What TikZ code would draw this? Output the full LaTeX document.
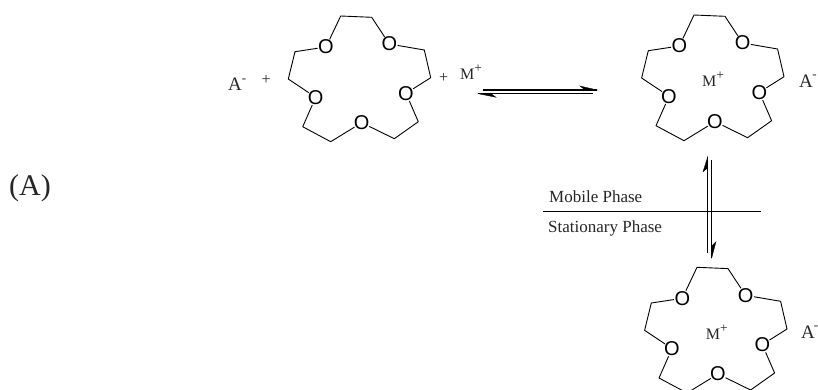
\documentclass[tikz,border=0pt]{standalone}
\usepackage{fontspec}
\setmainfont{Liberation Serif}
\newfontfamily\atomfont{Liberation Sans}
\newcommand{\supplus}{\raisebox{7pt}{\fontsize{13.5}{13.5}\selectfont +}}
\newcommand{\supminus}{\raisebox{8.5pt}{\fontsize{13}{13}\selectfont -}}
\tikzset{
  x=1pt,y=-1pt,
  atom/.style={circle,inner sep=-1.6pt,font=\atomfont\fontsize{20}{20}\selectfont,text=black},
  bond/.style={line width=0.9pt,line join=round},
  txt/.style={anchor=base west,inner sep=0pt,text=black!85},
  lab/.style={txt,font=\fontsize{16}{17}\selectfont},
  phase/.style={txt,font=\fontsize{17}{18}\selectfont},
  sym/.style={txt,font=\fontsize{19}{19}\selectfont},
  arrowline/.style={line width=1.4pt},
  headfill/.style={fill=black,draw=black,line width=0.3pt},
  crown/.pic={
    \node[atom] (o1) at (326,47) {O};
    \node[atom] (o2) at (389.3,44) {O};
    \node[atom] (o3) at (406,93.3) {O};
    \node[atom] (o4) at (361.7,122.7) {O};
    \node[atom] (o5) at (315.7,97.3) {O};
    \coordinate (c1) at (340.7,16);
    \coordinate (c2) at (371.7,17.3);
    \coordinate (c3) at (424.3,50);
    \coordinate (c4) at (430.7,77.7);
    \coordinate (c5) at (418.3,121.7);
    \coordinate (c6) at (394.3,138.7);
    \coordinate (c7) at (330.7,141.7);
    \coordinate (c8) at (302.7,126.7);
    \coordinate (c9) at (288.3,79);
    \coordinate (c10) at (295,51.7);
    \draw[bond] (o1) -- (c1) -- (c2) -- (o2);
    \draw[bond] (o2) -- (c3) -- (c4) -- (o3);
    \draw[bond] (o3) -- (c5) -- (c6) -- (o4);
    \draw[bond] (o4) -- (c7) -- (c8) -- (o5);
    \draw[bond] (o5) -- (c9) -- (c10) -- (o1);
  }
}
\begin{document}
\begin{tikzpicture}
  \useasboundingbox (0,0) rectangle (818,389);
  \clip (0,0) rectangle (818,389);
  \pic (ra) at (0,0) {crown};
  \pic (rb) at (353.3,-1) {crown};
  \pic (rc) at (356.3,251.3) {crown};

  \node[txt,font=\fontsize{30}{30}\selectfont] (tag) at (9,195) {(A)};

  \node[sym] (a1) at (228,90.7) {A\supminus};
  \node[lab] (p1) at (261.5,84) {+};
  \node[lab] (p2) at (439,82) {+};
  \node[lab] (m1) at (460,79) {M\supplus};
  \node[lab] (m2) at (702,86) {M\supplus};
  \node[sym] (a2) at (799,87.3) {A\kern-0.5pt\supminus};
  \node[lab] (m3) at (705.7,339) {M\supplus};
  \node[sym] (a3) at (801,338) {A\kern-1pt\supminus};

  \node[phase] (mob) at (549,202) {Mobile Phase};
  \node[phase] (sta) at (548,232) {Stationary Phase};

  % horizontal equilibrium arrows
  \coordinate (h1s) at (482.7,90);
  \coordinate (h1e) at (597.3,90);
  \coordinate (h1b) at (580,86);
  \coordinate (h2s) at (593,93.7);
  \coordinate (h2e) at (478.3,93.7);
  \coordinate (h2b) at (496,97.3);
  \draw[arrowline] (h1s) -- (h1e);
  \draw[arrowline] (h2s) -- (h2e);
  \fill[headfill] (h1e) -- (h1b) -- (585,90) -- cycle;
  \fill[headfill] (h2e) -- (h2b) -- (491,93.7) -- cycle;

  % vertical equilibrium arrows
  \coordinate (v1s) at (707.7,253);
  \coordinate (v1e) at (707.7,156.7);
  \coordinate (v1b) at (703,171.7);
  \coordinate (v2s) at (711.7,160);
  \coordinate (v2e) at (711.7,258);
  \coordinate (v2b) at (716,241.7);
  \draw[line width=0.9pt] (v1s) -- (v1e);
  \draw[line width=0.9pt] (v2s) -- (v2e);
  \fill[headfill] (v1e) -- (v1b) -- (707.7,168) -- cycle;
  \fill[headfill] (v2e) -- (v2b) -- (711.7,246) -- cycle;

  % phase boundary
  \coordinate (bl) at (543.3,211.7);
  \coordinate (br) at (761,211.7);
  \draw[line width=0.8pt] (bl) -- (br);
\end{tikzpicture}
\end{document}
